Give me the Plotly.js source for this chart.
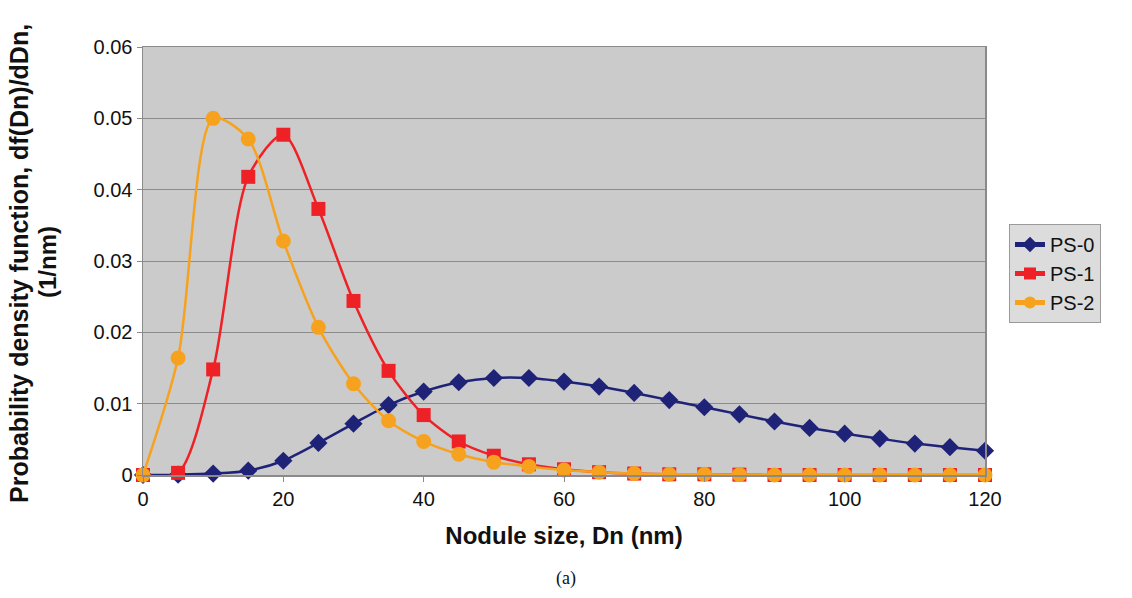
<!DOCTYPE html>
<html>
<head>
<meta charset="utf-8">
<script src="https://cdn.plot.ly/plotly-3.0.1.min.js"></script>
<style>
html,body{margin:0;padding:0;background:#fff;}
#chart{width:1132px;height:598px;}
</style>
</head>
<body>
<div id="chart"></div>
<script>
const noduleSize = [0,5,10,15,20,25,30,35,40,45,50,55,60,65,70,75,80,85,90,95,100,105,110,115,120];
const ps0 = [0,0.00005,0.0002,0.0006,0.002,0.0045,0.0072,0.0098,0.0117,0.0130,0.0136,0.0136,0.0131,0.0124,0.0115,0.0105,0.0095,0.0085,0.0075,0.0066,0.0058,0.0051,0.0044,0.0039,0.0034];
const ps1 = [0,0.0003,0.0148,0.0418,0.0477,0.0373,0.0244,0.0146,0.0084,0.0047,0.0027,0.0015,0.0008,0.0004,0.0002,0.0001,0.0001,0.00005,0,0,0,0,0,0,0];
const ps2 = [0,0.0164,0.0500,0.0471,0.0328,0.0207,0.0128,0.0076,0.0047,0.0029,0.0018,0.0012,0.0007,0.0004,0.0002,0.0001,0.0001,0.00005,0,0,0,0,0,0,0];
const seriesNames = ["PS-0","PS-1","PS-2"];
const xTicks = [0,20,40,60,80,100,120];
const yTicks = [0,0.01,0.02,0.03,0.04,0.05,0.06];

const traces = [
  {x:noduleSize, y:ps0, name:seriesNames[0], type:'scatter', mode:'lines+markers',
   line:{color:'#1f2378', width:2.5, shape:'spline', smoothing:0.8},
   marker:{symbol:'diamond', size:14, color:'#1f2378'}, cliponaxis:false},
  {x:noduleSize, y:ps1, name:seriesNames[1], type:'scatter', mode:'lines+markers',
   line:{color:'#ee2226', width:2.5, shape:'spline', smoothing:0.8},
   marker:{symbol:'square', size:14, color:'#ee2226'}, cliponaxis:false},
  {x:noduleSize, y:ps2, name:seriesNames[2], type:'scatter', mode:'lines+markers',
   line:{color:'#f7a21e', width:2.5, shape:'spline', smoothing:0.8},
   marker:{symbol:'circle', size:15, color:'#f7a21e'}, cliponaxis:false}
];

const layout = {
  width:1132, height:598,
  margin:{l:143, r:147, t:47, b:123},
  paper_bgcolor:'#ffffff',
  plot_bgcolor:'#cbcbcb',
  font:{family:'Arial', color:'#111', size:20},
  showlegend:true,
  legend:{x:1.0285, y:0.5865, xanchor:'left', yanchor:'top',
    bgcolor:'#dcdcdc', bordercolor:'#9a9a9a', borderwidth:1,
    font:{family:'Arial', size:20, color:'#111'}, tracegroupgap:0, itemsizing:'constant'},
  xaxis:{range:[0,120], tickvals:xTicks, ticktext:xTicks.map(String),
    showgrid:false, zeroline:false, showline:true, linecolor:'#8a8a8a', linewidth:1.5,
    mirror:true, ticks:'outside', ticklen:5, tickcolor:'#8a8a8a',
    tickfont:{family:'Arial', size:20}, fixedrange:true,
    title:{text:'<b>Nodule size, Dn (nm)</b>', font:{family:'Arial', size:24, color:'#111'}, standoff:18}},
  yaxis:{range:[0,0.06], tickvals:yTicks, ticktext:['0','0.01','0.02','0.03','0.04','0.05','0.06'],
    showgrid:true, gridcolor:'#8c8c8c', gridwidth:1, zeroline:false,
    showline:true, linecolor:'#8a8a8a', linewidth:1.5, mirror:true,
    ticks:'outside', ticklen:5, tickcolor:'#8a8a8a', tickfont:{family:'Arial', size:20}, fixedrange:true},
  annotations:[
    {text:'<b>Probability density function, df(Dn)/dDn,</b>',
     xref:'paper', yref:'paper', x:(19-143)/842, y:(475-264)/428,
     xanchor:'center', yanchor:'middle', textangle:-90, showarrow:false,
     font:{family:'Arial', size:25, color:'#111'}},
    {text:'<b>(1/nm)</b>',
     xref:'paper', yref:'paper', x:(47-143)/842, y:(475-262)/428,
     xanchor:'center', yanchor:'middle', textangle:-90, showarrow:false,
     font:{family:'Arial', size:24, color:'#111'}},
    {text:'(a)', xref:'paper', yref:'paper', x:(566-143)/842, y:(475-578)/428,
     xanchor:'center', yanchor:'middle', showarrow:false,
     font:{family:'Liberation Serif, Times New Roman, serif', size:18, color:'#111'}}
  ]
};

Plotly.newPlot('chart', traces, layout, {displayModeBar:false, staticPlot:true});
</script>
</body>
</html>
